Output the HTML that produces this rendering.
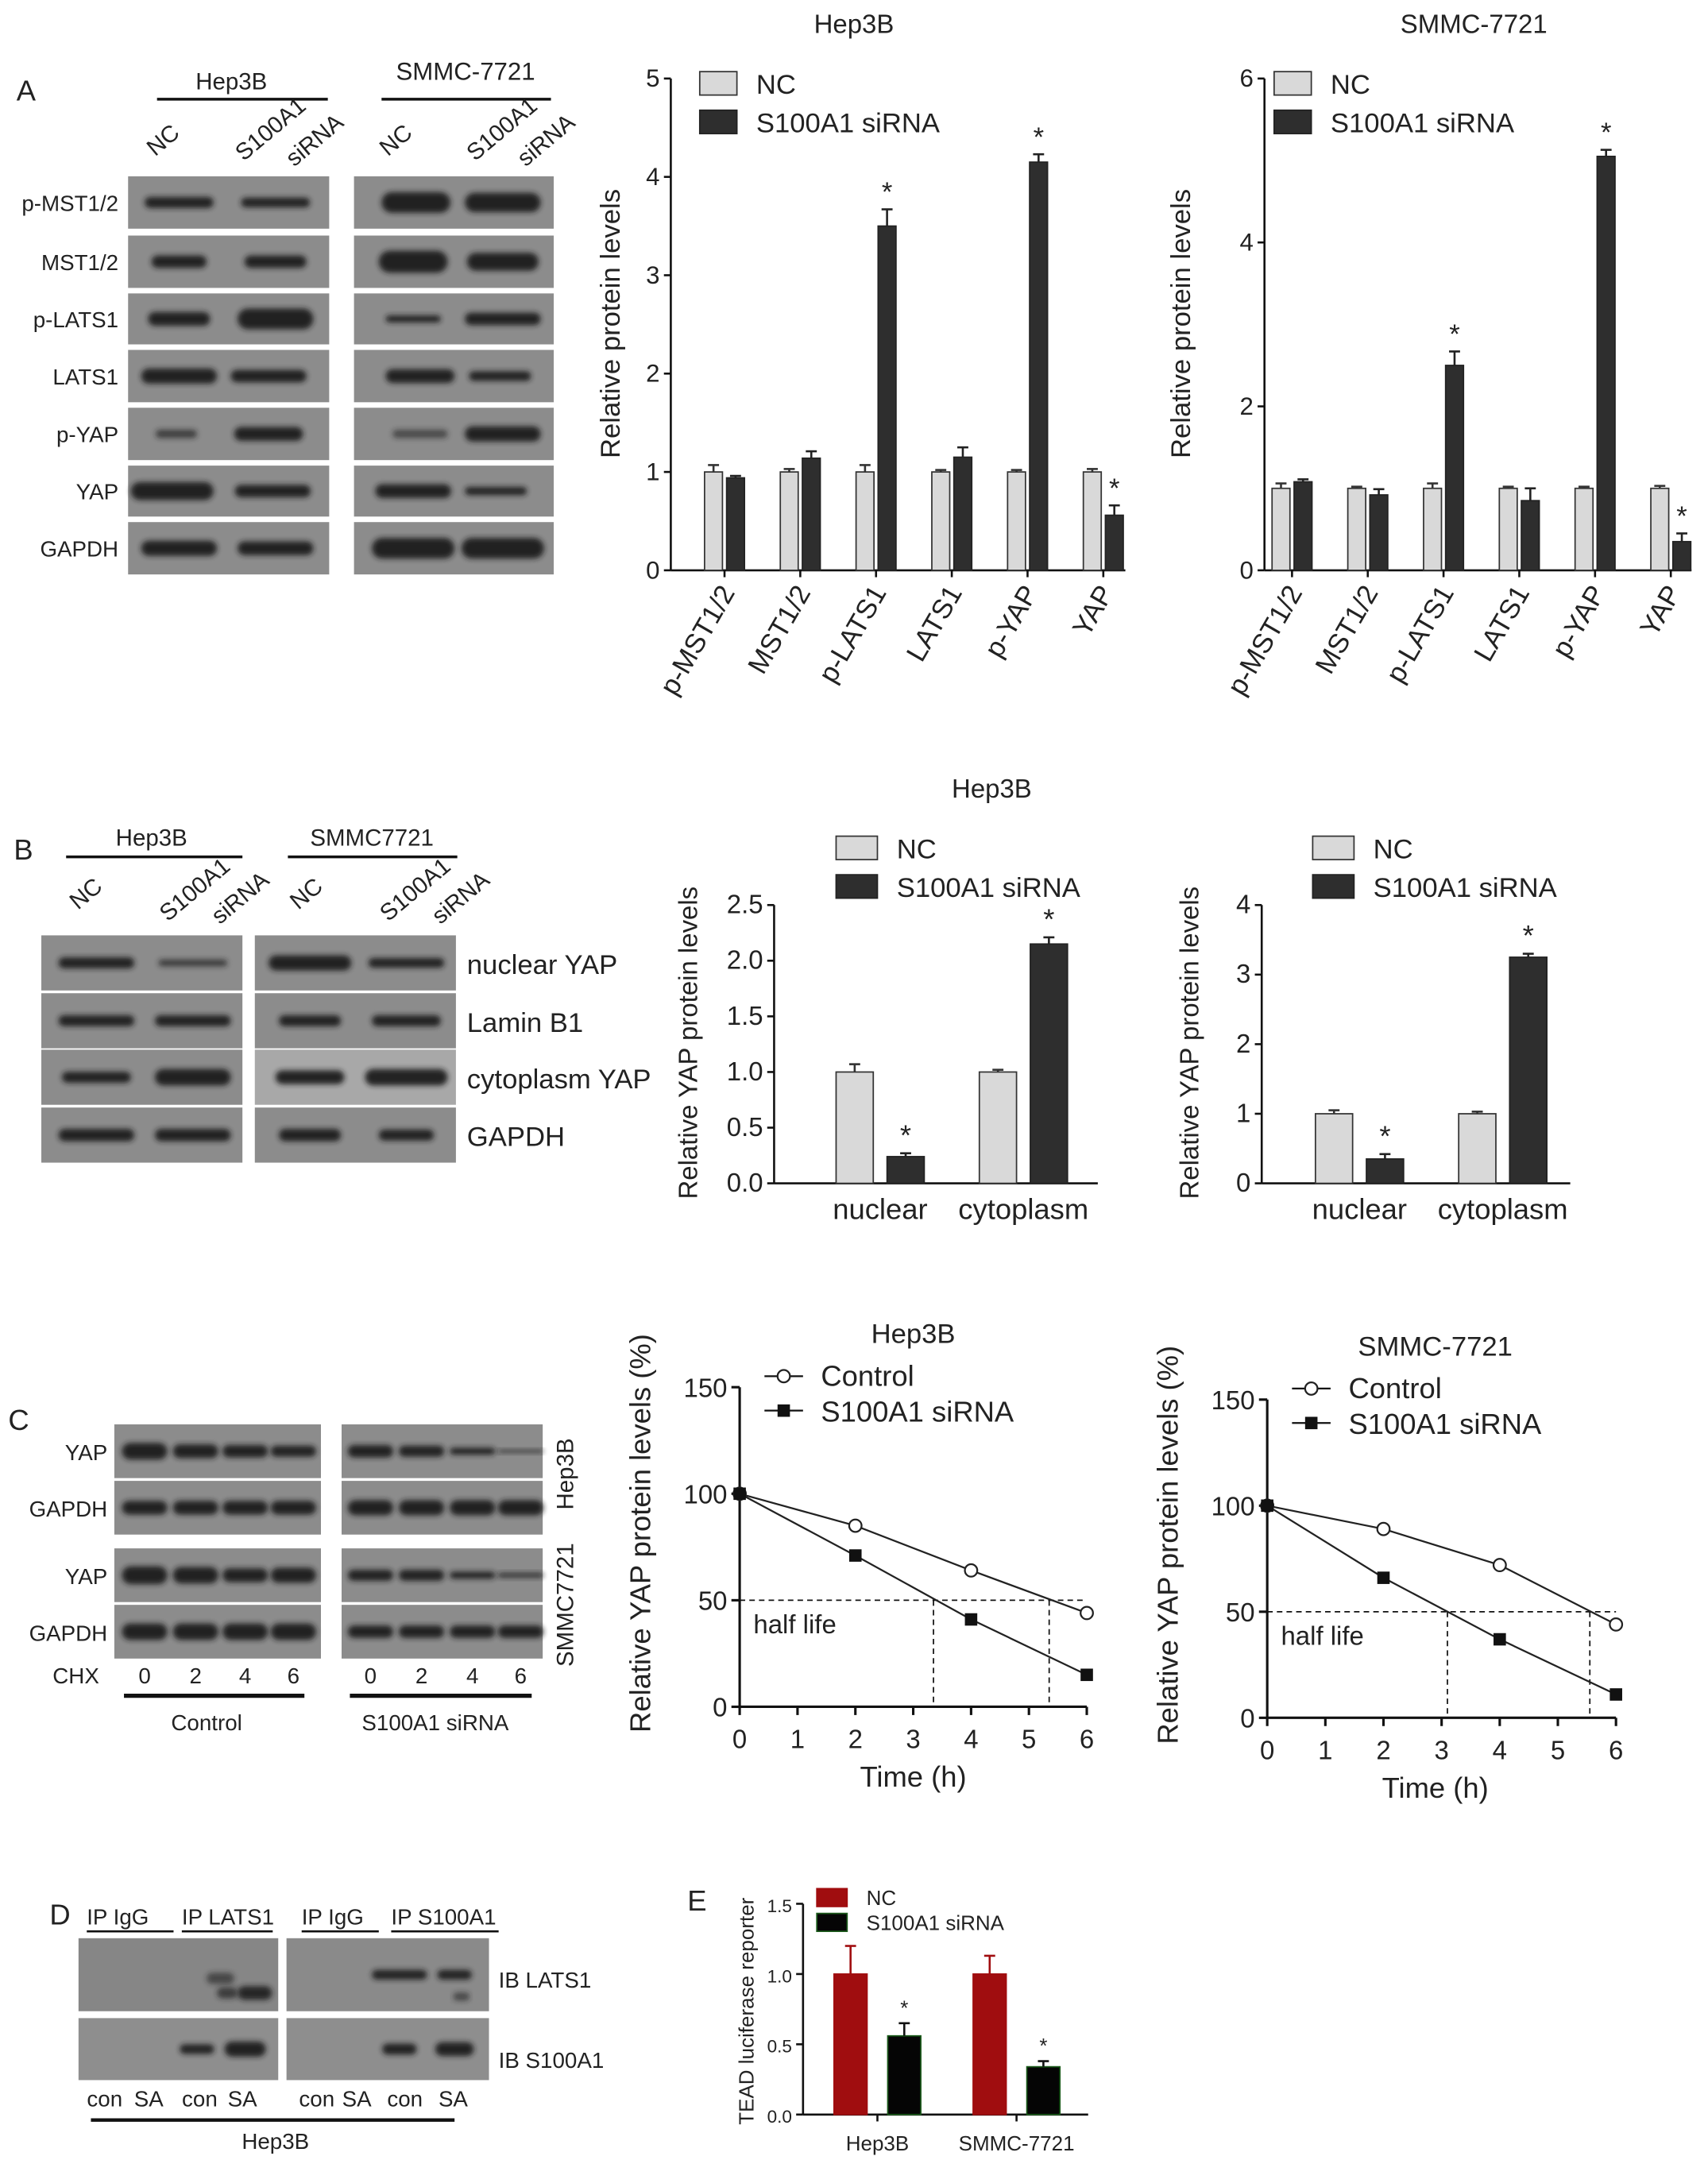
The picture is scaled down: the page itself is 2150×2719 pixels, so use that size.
<!DOCTYPE html>
<html><head><meta charset="utf-8">
<style>
html,body{margin:0;padding:0;background:#fff;}
svg{display:block;}
text{font-family:"Liberation Sans",sans-serif;fill:#222;}
</style></head>
<body>
<svg id="fig" width="2150" height="2719" viewBox="0 0 1240 1568" preserveAspectRatio="none" xmlns="http://www.w3.org/2000/svg">
<defs>
<filter id="bl" x="-20%" y="-100%" width="140%" height="300%"><feGaussianBlur stdDeviation="2"/></filter>
</defs>
<g id="root"></g>
</svg>
<script>
const catsA = ["p-MST1/2","MST1/2","p-LATS1","LATS1","p-YAP","YAP"];
const hepA_nc = [1,1,1,1,1,1];
const hepA_nc_err = [0.07,0.03,0.07,0.02,0.02,0.03];
const hepA_si = [0.94,1.14,3.5,1.15,4.15,0.56];
const hepA_si_err = [0.02,0.07,0.17,0.1,0.08,0.1];
const hepA_sig = [false,false,true,false,true,true];
const smA_nc = [1,1,1,1,1,1];
const smA_nc_err = [0.06,0.02,0.06,0.02,0.02,0.03];
const smA_si = [1.08,0.92,2.5,0.85,5.05,0.35];
const smA_si_err = [0.03,0.07,0.17,0.15,0.08,0.1];
const smA_sig = [false,false,true,false,true,true];
const ticksHepA = [0,1,2,3,4,5];
const ticksSmA = [0,2,4,6];

const catsB = ["nuclear","cytoplasm"];
const hepB_nc = [1.0,1.0], hepB_nc_err=[0.07,0.02];
const hepB_si = [0.24,2.15], hepB_si_err=[0.03,0.06];
const smB_nc = [1.0,1.0], smB_nc_err=[0.05,0.03];
const smB_si = [0.35,3.25], smB_si_err=[0.07,0.05];
const ticksHepB = ["0.0","0.5","1.0","1.5","2.0","2.5"];
const ticksSmB = [0,1,2,3,4];

const timesC = [0,2,4,6];
const hepC_ctrl = [100,85,64,44];
const hepC_si = [100,71,41,15];
const smC_ctrl = [100,89,72,44];
const smC_si = [100,66,37,11];
const hepC_half = [3.35,5.35];
const smC_half = [3.1,5.55];
const ticksCy = [0,50,100,150];
const ticksCx = [0,1,2,3,4,5,6];

const catsE = ["Hep3B","SMMC-7721"];
const e_nc = [1.0,1.0], e_nc_err=[0.2,0.13];
const e_si = [0.56,0.34], e_si_err=[0.09,0.04];
const ticksE = ["0.0","0.5","1.0","1.5"];

const NS="http://www.w3.org/2000/svg";
const root=document.getElementById('root');
function el(tag,attrs,parent,txt){
  const e=document.createElementNS(NS,tag);
  for(const k in attrs)e.setAttribute(k,attrs[k]);
  if(txt!==undefined)e.textContent=txt;
  (parent||root).appendChild(e);return e;
}
function txt(x,y,s,size,anchor,parent,extra){
  return el('text',Object.assign({x:x,y:y,'font-size':size,'text-anchor':anchor||'start'},extra||{}),parent,s);
}
function ln(x1,y1,x2,y2,w,parent,dash){
  const a={x1:x1,y1:y1,x2:x2,y2:y2,stroke:'#111','stroke-width':w||1.5};
  if(dash)a['stroke-dasharray']=dash;
  return el('line',a,parent);
}
function barChart(o){
  const g=el('g',{});
  
  
  const ys=v=>o.y0-(v/o.ymax)*(o.y0-o.ytop);
  const xs=i=>o.x0+o.gap0+i*o.step;
  ln(o.ax,o.ytop,o.ax,o.y0,1.5,g);
  o.ticks.forEach(t=>{const v=parseFloat(t);const y=ys(v);ln(o.ax-5,y,o.ax,y,1.5,g);
    const tt=txt(o.ax-8,y+6,String(t),o.fs,'end',g);
    });
  ln(o.ax,o.y0,o.xend,o.y0,1.5,g);
  o.cats.forEach((c,i)=>{
    const cx=xs(i);
    if(o.xticks)ln(cx,o.y0,cx,o.y0+5,1.5,g);
    const b1=el('rect',{x:cx-o.bw-o.inner/2,y:ys(o.nc[i]),width:o.bw,height:o.y0-ys(o.nc[i]),fill:o.c1,stroke:o.s1,'stroke-width':1},g);
    
    const b2=el('rect',{x:cx+o.inner/2,y:ys(o.si[i]),width:o.bw,height:o.y0-ys(o.si[i]),fill:o.c2,stroke:o.s2,'stroke-width':1},g);
    
    [[cx-o.bw/2-o.inner/2,o.nc[i],o.nce[i],o.ec1],[cx+o.bw/2+o.inner/2,o.si[i],o.sie[i],o.ec2]].forEach(([x,v,e,col])=>{
      el('line',{x1:x,y1:ys(v),x2:x,y2:ys(v+e),stroke:col,'stroke-width':1.5},g);
      el('line',{x1:x-4,y1:ys(v+e),x2:x+4,y2:ys(v+e),stroke:col,'stroke-width':1.5},g);
    });
    if(o.sig[i]){const s=txt(cx+o.bw/2+o.inner/2,ys(o.si[i]+o.sie[i])-6,'*',o.fs+2,'middle',g);
      }
    let lab;
    if(o.rot){lab=txt(0,0,c,o.fs+2,'end',g,{transform:`translate(${cx+8},${o.y0+16}) rotate(-60)`});}
    else{lab=txt(cx,o.y0+26,c,o.lfs||o.fs+3,'middle',g);}
    
  });
  return g;
}
function legend(x,y,dy,bw,bh,items,fs,g){
  items.forEach((it,i)=>{
    const r=el('rect',{x:x,y:y+i*dy,width:bw,height:bh,fill:it[1],stroke:it[2],'stroke-width':1},g);
    
    const t=txt(x+bw+14,y+i*dy+bh-1,it[0],fs,'start',g);
    
  });
}
function lineChart(o){
  const g=el('g',{});
  
  const ys=v=>o.y0-(v/150)*(o.y0-o.ytop);
  const xs=t=>o.ax+t*o.xstep;
  ln(o.ax,o.ytop,o.ax,o.y0,1.8,g);
  ticksCy.forEach(t=>{ln(o.ax-6,ys(t),o.ax,ys(t),1.8,g);const a=txt(o.ax-9,ys(t)+7,String(t),19,'end',g);
    });
  ln(o.ax,o.y0,xs(6),o.y0,1.8,g);
  ticksCx.forEach(t=>{ln(xs(t),o.y0,xs(t),o.y0+6,1.8,g);const a=txt(xs(t),o.y0+30,String(t),19,'middle',g);
    });
  ln(o.ax,ys(50),xs(6),ys(50),1,g,'4,3');
  o.half.forEach(h=>ln(xs(h),ys(50),xs(h),o.y0,1,g,'4,3'));
  const hl=txt(o.ax+10,ys(50)+24,'half life',19,'start',g);
  
  const p1=el('polyline',{points:timesC.map((t,i)=>xs(t)+','+ys(o.ctrl[i])).join(' '),fill:'none',stroke:'#222','stroke-width':1.3},g);
  
  const p2=el('polyline',{points:timesC.map((t,i)=>xs(t)+','+ys(o.si[i])).join(' '),fill:'none',stroke:'#222','stroke-width':1.3},g);
  
  timesC.forEach((t,i)=>{
    const c=el('circle',{cx:xs(t),cy:ys(o.ctrl[i]),r:4.5,fill:'#fff',stroke:'#222','stroke-width':1.3},g);
    
    const r=el('rect',{x:xs(t)-4.5,y:ys(o.si[i])-4.5,width:9,height:9,fill:'#111'},g);
    
  });
  ln(o.lx,o.ly,o.lx+28,o.ly,1.3,g);el('circle',{cx:o.lx+14,cy:o.ly,r:4.5,fill:'#fff',stroke:'#222','stroke-width':1.3},g);
  ln(o.lx,o.ly+25,o.lx+28,o.ly+25,1.3,g);el('rect',{x:o.lx+9.5,y:o.ly+20.5,width:9,height:9,fill:'#111'},g);
  let a=txt(o.lx+41,o.ly+7,'Control',21,'start',g);
  a=txt(o.lx+41,o.ly+33,'S100A1 siRNA',21,'start',g);
  a=txt(o.tx,o.ty,o.title,20,'middle',g);
  a=txt(o.tx,o.y0+58,'Time (h)',21,'middle',g);
  a=txt(0,0,'Relative YAP protein levels (%)',21,'middle',g,{transform:`translate(${o.ax-65},${(o.ytop+o.y0)/2-10}) rotate(-90)`});
  
}
function blot(x,y,w,h,lanes,name,bg){
  const g=el('g',{});
  
  el('rect',{x:x,y:y,width:w,height:h,fill:bg||'#8c8c8c'},g);
  lanes.forEach(l=>{
    if(l[2]<=0)return;
    el('rect',{x:l[0]-l[1]/2,y:y+h*(l[3]||0.5)-l[2]/2,width:l[1],height:l[2],rx:l[2]/2,fill:'#1a1a1a',opacity:l[4]||0.95,filter:'url(#bl)'},g);
  });
  return g;
}
function letter(x,y,s){const a=txt(x,y,s,21,'start');}
function laneLabel(x,y,s,size){const z=txt(0,0,s,size,'middle',root,{transform:`translate(${x},${y}) rotate(-40)`});
  }

// Panel A
letter(12,73,'A');
let t=txt(168,65,'Hep3B',17,'middle');
ln(114,72,238,72,2);
t=txt(338,58,'SMMC-7721',18,'middle');
ln(277,72,400,72,2);
laneLabel(122,106,'NC',17);laneLabel(200,98,'S100A1',17);laneLabel(232,106,'siRNA',17);
laneLabel(291,106,'NC',17);laneLabel(368,98,'S100A1',17);laneLabel(400,106,'siRNA',17);
const rowsA=[["p-MST1/2",128,38],["MST1/2",171,38],["p-LATS1",213,37],["LATS1",254,38],["p-YAP",296,38],["YAP",338,37],["GAPDH",379,38]];
const bandsL=[[[130,50,8],[200,50,7]],[[130,40,9],[200,45,9]],[[130,45,10],[200,55,15]],[[130,55,11],[195,55,9]],[[128,30,6,0.5,0.7],[195,50,10]],[[125,60,13],[198,55,9]],[[130,55,11],[200,55,10]]];
const bandsR=[[[302,50,15],[365,55,14]],[[300,50,16],[365,52,13]],[[300,40,5],[365,55,9]],[[305,50,10],[363,45,7]],[[305,40,6,0.5,0.6],[365,55,11]],[[300,55,10],[360,45,6]],[[300,60,15],[365,60,15]]];
rowsA.forEach((r,i)=>{
  const a=txt(86,r[1]+r[2]/2+6,r[0],16,'end');
  blot(93,r[1],146,r[2],bandsL[i],'blot-hep3b-'+r[0]);
  blot(257,r[1],145,r[2],bandsR[i],'blot-smmc-'+r[0]);
});
barChart({name:'chart-a-hep3b',ax:487,x0:487,gap0:39,step:55,ytop:57,y0:414,ymax:5,xend:817,ticks:ticksHepA,fs:18,cats:catsA,nc:hepA_nc,nce:hepA_nc_err,si:hepA_si,sie:hepA_si_err,sig:hepA_sig,bw:13,inner:3,c1:'#d9d9d9',s1:'#333',c2:'#2e2e2e',s2:'#222',ec1:'#333',ec2:'#222',rot:true,xticks:true});
barChart({name:'chart-a-smmc',ax:918,x0:918,gap0:20,step:55,ytop:57,y0:414,ymax:6,xend:1228,ticks:ticksSmA,fs:18,cats:catsA,nc:smA_nc,nce:smA_nc_err,si:smA_si,sie:smA_si_err,sig:smA_sig,bw:13,inner:3,c1:'#d9d9d9',s1:'#333',c2:'#2e2e2e',s2:'#222',ec1:'#333',ec2:'#222',rot:true,xticks:true});
t=txt(620,24,'Hep3B',19,'middle');
t=txt(1070,24,'SMMC-7721',19,'middle');
legend(508,52,28,27,17,[['NC','#d9d9d9','#333'],['S100A1 siRNA','#2e2e2e','#222']],20);
legend(925,52,28,27,17,[['NC','#d9d9d9','#333'],['S100A1 siRNA','#2e2e2e','#222']],20);
t=txt(0,0,'Relative protein levels',20,'middle',root,{transform:'translate(450,235) rotate(-90)'});
t=txt(0,0,'Relative protein levels',20,'middle',root,{transform:'translate(864,235) rotate(-90)'});

// Panel B
letter(10,624,'B');
t=txt(110,614,'Hep3B',17,'middle');
ln(48,622,176,622,2);
t=txt(270,614,'SMMC7721',17,'middle');
ln(209,622,332,622,2);
laneLabel(66,653,'NC',17);laneLabel(145,650,'S100A1',17);laneLabel(178,656,'siRNA',17);
laneLabel(226,653,'NC',17);laneLabel(305,650,'S100A1',17);laneLabel(338,656,'siRNA',17);
const rowsB=[["nuclear YAP",679,40],["Lamin B1",721,40],["cytoplasm YAP",762,40],["GAPDH",804,40]];
const bL=[[[70,55,8],[140,50,5,0.5,0.7]],[[70,55,8],[140,55,8]],[[70,50,8],[140,55,12]],[[70,55,9],[140,55,9]]];
const bR=[[[225,60,11],[295,55,7]],[[225,45,8],[295,50,8]],[[225,50,10],[295,60,12]],[[225,45,9],[295,40,8]]];
rowsB.forEach((r,i)=>{
  blot(30,r[1],146,r[2],bL[i],'blot-b-hep3b-'+r[0]);
  blot(185,r[1],146,r[2],bR[i],'blot-b-smmc-'+r[0],i==2?'#a8a8a8':'#8c8c8c');
  const a=txt(339,r[1]+r[2]/2+8,r[0],20,'start');
});
barChart({name:'chart-b-hep3b',ax:562,x0:562,gap0:77,step:104,ytop:657,y0:859,ymax:2.5,xend:797,ticks:ticksHepB,fs:19,cats:catsB,nc:hepB_nc,nce:hepB_nc_err,si:hepB_si,sie:hepB_si_err,sig:[true,true],bw:27,inner:10,c1:'#d9d9d9',s1:'#333',c2:'#2e2e2e',s2:'#222',ec1:'#333',ec2:'#222',rot:false,xticks:false,lfs:21});
barChart({name:'chart-b-smmc',ax:916,x0:916,gap0:71,step:104,ytop:657,y0:859,ymax:4,xend:1140,ticks:ticksSmB,fs:19,cats:catsB,nc:smB_nc,nce:smB_nc_err,si:smB_si,sie:smB_si_err,sig:[true,true],bw:27,inner:10,c1:'#d9d9d9',s1:'#333',c2:'#2e2e2e',s2:'#222',ec1:'#333',ec2:'#222',rot:false,xticks:false,lfs:21});
t=txt(720,579,'Hep3B',19,'middle');
legend(607,607,28,30,17,[['NC','#d9d9d9','#333'],['S100A1 siRNA','#2e2e2e','#222']],20);
legend(953,607,28,30,17,[['NC','#d9d9d9','#333'],['S100A1 siRNA','#2e2e2e','#222']],20);
t=txt(0,0,'Relative YAP protein levels',19,'middle',root,{transform:'translate(506,757) rotate(-90)'});
t=txt(0,0,'Relative YAP protein levels',19,'middle',root,{transform:'translate(870,757) rotate(-90)'});

// Panel C
letter(6,1038,'C');
const rowsC=[["YAP",1034],["GAPDH",1075],["YAP",1124],["GAPDH",1165]];
const laneL=[105,142,178,213], laneR=[269,306,343,378];
const bCL=[[12,10,9,8],[10,10,10,10],[13,12,10,11],[12,12,12,12]];
const bCR=[[9,8,5,2],[11,11,11,11],[8,8,5,3],[9,9,9,9]];
rowsC.forEach((r,i)=>{
  blot(83,r[1],150,39,laneL.map((x,j)=>[x,33,bCL[i][j]]),'blot-c-control-'+i);
  blot(248,r[1],146,39,laneR.map((x,j)=>[x,33,bCR[i][j]]),'blot-c-sirna-'+i);
  const a=txt(78,r[1]+26,r[0],16,'end');
});
t=txt(0,0,'Hep3B',17,'middle',root,{transform:'translate(416,1070) rotate(-90)'});
t=txt(0,0,'SMMC7721',17,'middle',root,{transform:'translate(416,1165) rotate(-90)'});
t=txt(72,1222,'CHX',16,'end');
['0','2','4','6'].forEach((s,j)=>{let a=txt(laneL[j],1222,s,16,'middle');
  a=txt(laneR[j],1222,s,16,'middle');});
ln(90,1231,221,1231,3);ln(254,1231,386,1231,3);
t=txt(150,1256,'Control',16,'middle');
t=txt(316,1256,'S100A1  siRNA',16,'middle');
lineChart({name:'chart-c-hep3b',ax:537,ytop:1007,y0:1239,xstep:42,ctrl:hepC_ctrl,si:hepC_si,half:hepC_half,lx:555,ly:999,tx:663,ty:975,title:'Hep3B'});
lineChart({name:'chart-c-smmc',ax:920,ytop:1016,y0:1247,xstep:42.2,ctrl:smC_ctrl,si:smC_si,half:smC_half,lx:938,ly:1008,tx:1042,ty:984,title:'SMMC-7721'});

// Panel D
letter(36,1397,'D');
[[63,126,'IP IgG'],[132,198,'IP LATS1'],[219,275,'IP IgG'],[284,362,'IP S100A1']].forEach(a=>{
  const z=txt(a[0],1397,a[2],16,'start');
  ln(a[0],1402,a[1],1402,1.5);});
blot(57,1407,145,53,[[160,20,8,0.55,0.6],[185,25,10,0.75,0.9],[165,15,8,0.75,0.7]],'blot-d-ib-lats1-left','#868686');
blot(208,1407,147,53,[[290,40,7,0.5],[330,25,7,0.5],[335,12,6,0.8,0.6]],'blot-d-ib-lats1-right','#8a8a8a');
blot(57,1465,145,45,[[143,25,7],[178,30,11]],'blot-d-ib-s100a1-left','#8e8e8e');
blot(208,1465,147,45,[[290,25,8],[330,28,10]],'blot-d-ib-s100a1-right','#8e8e8e');
t=txt(362,1443,'IB LATS1',16,'start');
t=txt(362,1501,'IB S100A1',16,'start');
[[76,'con'],[108,'SA'],[145,'con'],[176,'SA'],[230,'con'],[259,'SA'],[294,'con'],[329,'SA']].forEach(a=>{
  const z=txt(a[0],1529,a[1],16,'middle');});
ln(66,1539,330,1539,2.5);
t=txt(200,1560,'Hep3B',16,'middle');

// Panel E
letter(499,1387,'E');
barChart({name:'chart-e-tead',ax:583,x0:583,gap0:54,step:101,ytop:1382,y0:1535,ymax:1.5,xend:790,ticks:ticksE,fs:13,cats:catsE,nc:e_nc,nce:e_nc_err,si:e_si,sie:e_si_err,sig:[true,true],bw:24,inner:15,c1:'#a00d0f',s1:'#a00d0f',c2:'#050505',s2:'#1a5a1a',ec1:'#a00d0f',ec2:'#111',rot:false,xticks:true,lfs:15});
legend(593,1371,18,22,13,[['NC','#a00d0f','#a00d0f'],['S100A1 siRNA','#050505','#1a5a1a']],15);
t=txt(0,0,'TEAD luciferase reporter',15,'middle',root,{transform:'translate(547,1460) rotate(-90)'});
</script>
</body></html>
